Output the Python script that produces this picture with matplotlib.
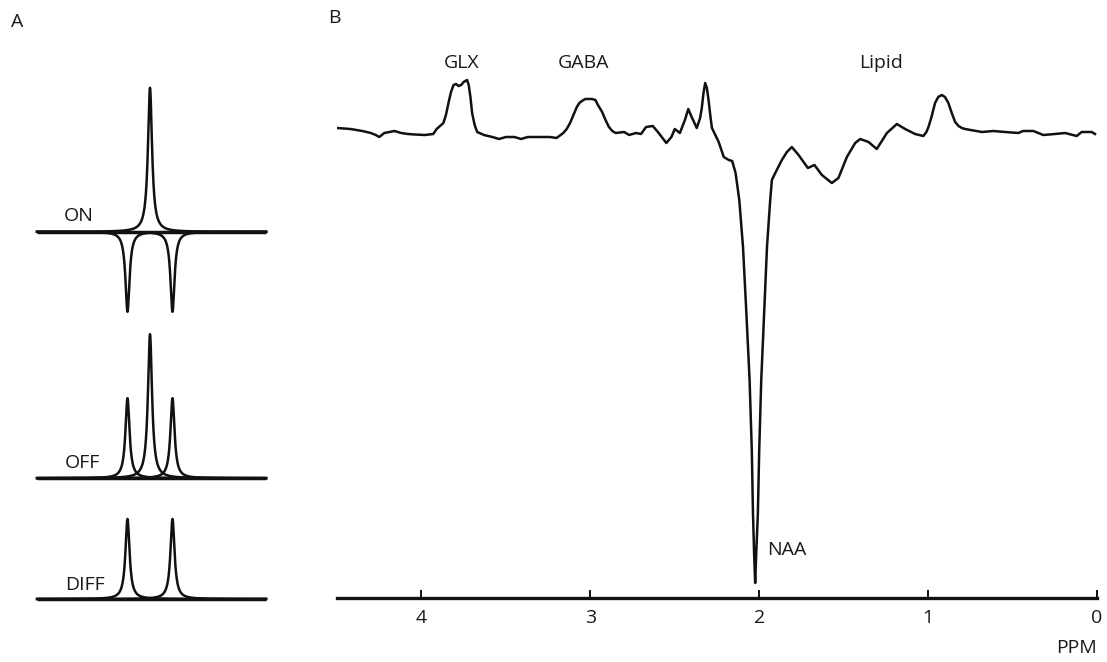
import matplotlib
matplotlib.use("Agg")
import numpy as np
import matplotlib.pyplot as plt

plt.rcParams['font.family'] = ['Open Sans', 'DejaVu Sans']

# ---------------- Panel A: MEGA-PRESS editing schematic ----------------
trace_names = ["ON", "OFF", "DIFF"]
peak_positions = [-1.0, 0.0, 1.0]
peak_heights = {
    "ON": [-1.0, 1.8, -1.0],
    "OFF": [1.0, 1.8, 1.0],
    "DIFF": [1.0, 0.0, 1.0],
}
peak_hwhm = 0.11
trace_offsets = {"ON": 4.59, "OFF": 1.51, "DIFF": 0.0}

# ---------------- Panel B: edited spectrum ----------------
ppm = [4.50, 4.42, 4.35, 4.30, 4.27, 4.25, 4.22, 4.16, 4.12, 4.08, 4.04, 3.98,
       3.93, 3.91, 3.87, 3.855, 3.84, 3.825, 3.81, 3.795, 3.78, 3.765, 3.75,
       3.73, 3.72, 3.71, 3.70, 3.685, 3.67, 3.63,
       3.58, 3.54, 3.50, 3.45, 3.41, 3.37, 3.31, 3.24, 3.20, 3.16, 3.14, 3.12,
       3.10, 3.08, 3.065, 3.05, 3.03, 3.01, 2.99, 2.97, 2.955, 2.93, 2.91, 2.89,
       2.87, 2.85, 2.80, 2.77, 2.73, 2.70, 2.67, 2.63,
       2.60, 2.55, 2.52, 2.50, 2.47, 2.44, 2.42, 2.40, 2.37, 2.35, 2.34, 2.33,
       2.32, 2.31, 2.30, 2.29, 2.28,
       2.24, 2.21, 2.18, 2.16, 2.14, 2.118, 2.096, 2.077, 2.057, 2.044, 2.037,
       2.030, 2.024, 2.018, 2.008, 2.000, 1.988, 1.970, 1.954, 1.935, 1.925,
       1.905, 1.866, 1.836, 1.807, 1.767, 1.712, 1.673, 1.629, 1.570, 1.531,
       1.481, 1.432, 1.402, 1.353, 1.304, 1.244, 1.185, 1.136, 1.077, 1.028,
       1.010, 0.998, 0.980, 0.959, 0.940, 0.919, 0.900, 0.880, 0.860, 0.840,
       0.820, 0.800, 0.781, 0.682, 0.614, 0.544, 0.466,
       0.438, 0.377, 0.318, 0.249, 0.189, 0.120, 0.091, 0.031, 0.012]
intensity = [2, 1, -1, -3, -5, -7, -3, -1, -3, -4, -4.5, -5,
             -4, 1, 7, 15, 27, 38, 45, 46, 44, 45, 48,
             50, 45, 33, 17, 5, -2, -5,
             -7, -9, -7, -7, -9, -7, -7, -7, -8, -3, 1, 7,
             15, 23, 27, 29, 31, 31, 31, 30, 25, 18, 10, 3,
             -1, -3, -2, -5, -3, -4, 3, 4,
             -2, -13, -7, 1, -3, 10, 21, 13, 2, 12, 22, 37,
             47, 42, 30, 15, 2,
             -12, -27, -30, -31, -43, -70, -117, -180, -250, -320, -383,
             -425, -453, -425, -383, -320, -250, -180, -117, -70, -50,
             -43, -30, -22, -17, -25, -38, -35, -45, -53, -48,
             -27, -13, -9, -12, -19, -3, 6, 1, -4, -6,
             -2, 3, 13, 27, 33, 35, 33, 27, 17, 8,
             4, 2, 1, -2, -1, -2, -3,
             -1, -1, -5, -4, -3, -6, -2, -2, -4]
ppm_ticks = [4, 3, 2, 1, 0]
metabolite_labels = ["GLX", "GABA", "Lipid", "NAA"]

W, H = 1107, 662
fig = plt.figure(figsize=(W / 100, H / 100), dpi=100)
fig.patch.set_facecolor("white")


def box(left, top, right, bottom):
    return [left / W, 1 - bottom / H, (right - left) / W, (bottom - top) / H]


def label(x, y, s, **kw):
    fig.text(x / W, 1 - y / H, s, ha="center", va="center",
             fontsize=14, color="#1a1a1a", **kw)


ink = "#111111"

# Panel A
ax_a = fig.add_axes(box(30, 75, 275, 610))
ax_a.set_xlim(-5.333, 5.556)
ax_a.set_ylim(-0.1375, 6.55)
ax_a.axis("off")

xs = np.linspace(-5.02, 5.16, 4000)
for name in trace_names:
    off = trace_offsets[name]
    ax_a.plot([xs[0], xs[-1]], [off, off], color=ink, lw=2.5,
              solid_capstyle="butt")
    for pos, h in zip(peak_positions, peak_heights[name]):
        if h == 0:
            continue
        line = h * peak_hwhm ** 2 / ((xs - pos) ** 2 + peak_hwhm ** 2)
        ax_a.plot(xs, off + line, color=ink, lw=1.8)

label(79, 216, "ON")
label(82, 463, "OFF")
label(85, 585, "DIFF")
label(17, 22, "A")
label(334, 18, "B")

# Panel B
ax_b = fig.add_axes(box(337, 50, 1097, 598))
ax_b.plot(ppm, intensity, color=ink, lw=1.8, solid_joinstyle="round")
ax_b.set_xlim(4.5, 0)
ax_b.set_ylim(-468, 80)
for side in ("left", "right", "top"):
    ax_b.spines[side].set_visible(False)
ax_b.spines["bottom"].set_linewidth(2.4)
ax_b.spines["bottom"].set_color(ink)
ax_b.set_yticks([])
ax_b.set_xticks(ppm_ticks)
ax_b.set_xticklabels([str(t) for t in ppm_ticks])
ax_b.tick_params(axis="x", direction="in", length=6, width=1.4, color=ink,
                 pad=8, labelsize=14, labelcolor="#1a1a1a")
ax_b.patch.set_alpha(0)

label(462, 63, metabolite_labels[0])
label(584, 63, metabolite_labels[1])
label(881, 63, metabolite_labels[2])
label(787, 550, metabolite_labels[3])
fig.text(1097 / W, 1 - 648 / H, "PPM", ha="right", va="center",
         fontsize=14, color="#1a1a1a")

fig.savefig("out.png", dpi=100, facecolor="white")
